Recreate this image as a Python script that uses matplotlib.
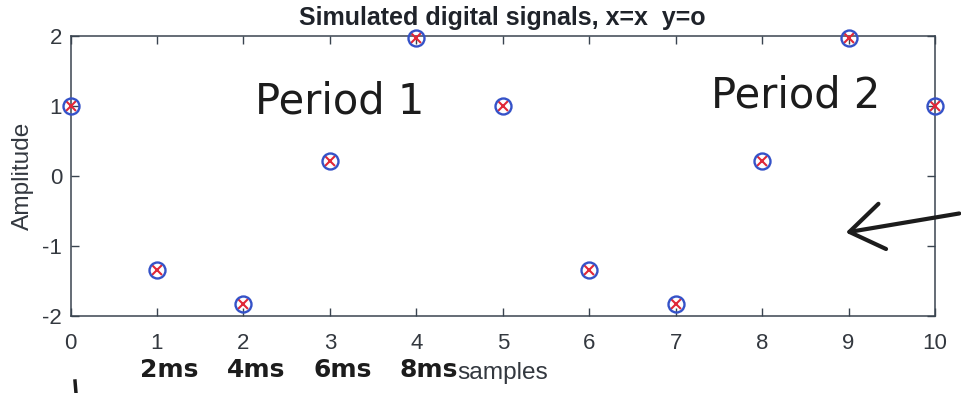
import numpy as np
import matplotlib
matplotlib.use("Agg")
import matplotlib.pyplot as plt
from matplotlib.lines import Line2D

# ---------------------- data ----------------------
samples = [0, 1, 2, 3, 4, 5, 6, 7, 8, 9, 10]
x_sig = [1.0, -1.34, -1.83, 0.22, 1.97, 1.0, -1.34, -1.83, 0.22, 1.97, 1.0]
y_sig = [1.0, -1.34, -1.83, 0.22, 1.97, 1.0, -1.34, -1.83, 0.22, 1.97, 1.0]
x_ticks = [0, 1, 2, 3, 4, 5, 6, 7, 8, 9, 10]
y_ticks = [-2, -1, 0, 1, 2]
period_notes = ["Period 1", "Period 2"]
time_notes = ["2ms", "4ms", "6ms", "8ms"]
time_at = [1, 2, 3, 4]

plt.rcParams["font.family"] = ["Liberation Sans", "DejaVu Sans"]
plt.rcParams["axes.unicode_minus"] = False
axis_col = "#3a4450"
text_col = "#33383f"
ink = "#1c1c1c"

W, H = 962, 393
fig = plt.figure(figsize=(W / 100, H / 100), dpi=100)
ax = fig.add_axes([70.5 / W, 1 - 316 / H, (935 - 70.5) / W, 280 / H])

ax.plot(samples, x_sig, "x", color="#e02838", markersize=7, markeredgewidth=1.5,
        clip_on=False, zorder=3)
ax.plot(samples, y_sig, "o", color="#3552c8", markerfacecolor="none",
        markersize=11.5, markeredgewidth=1.7, clip_on=False, zorder=3)

ax.set_xlim(0, 10)
ax.set_ylim(-2, 2)
ax.set_xticks(x_ticks)
ax.set_yticks(y_ticks)
ax.tick_params(direction="in", length=6, width=1, colors=axis_col, labelsize=16,
               top=True, right=True)
ax.tick_params(axis="x", pad=12)
ax.tick_params(axis="y", pad=6)
for lab in ax.get_xticklabels() + ax.get_yticklabels():
    lab.set_color(text_col)
for s in ax.spines.values():
    s.set_color(axis_col)
    s.set_linewidth(1.1)

ax.set_title("Simulated digital signals, x=x  y=o", fontsize=18, fontweight="bold",
             color="#1f232a", pad=8)
ax.set_xlabel("samples", fontsize=17.6, color=text_col, labelpad=6)
ax.set_ylabel("Amplitude", fontsize=17.6, color=text_col, labelpad=6)

# ---------------------- handwritten notes ----------------------
fig.text(340 / W, 1 - 101 / H, period_notes[0], fontsize=30, ha="center", va="center",
         family="DejaVu Sans", color=ink)
fig.text(796 / W, 1 - 96 / H, period_notes[1], fontsize=30, ha="center", va="center",
         family="DejaVu Sans", color=ink)
for lbl, t in zip(time_notes, time_at):
    ax.annotate(lbl, xy=(t, 0), xycoords=ax.get_xaxis_transform(),
                xytext=(9, -39), textcoords="offset points", ha="center", va="center",
                fontsize=18, fontweight="bold", family="DejaVu Sans", color=ink,
                annotation_clip=False)

ax.annotate("", xy=(843 / W, 1 - 233 / H), xycoords="figure fraction",
            xytext=(962 / W, 1 - 213 / H), textcoords="figure fraction",
            arrowprops=dict(arrowstyle="->,head_length=0.8,head_width=0.55",
                            color=ink, lw=3, mutation_scale=30))
fig.add_artist(Line2D([75 / W, 76 / W], [1 - 381 / H, 0], color=ink, lw=2.5))

fig.savefig("out.png", dpi=100)
